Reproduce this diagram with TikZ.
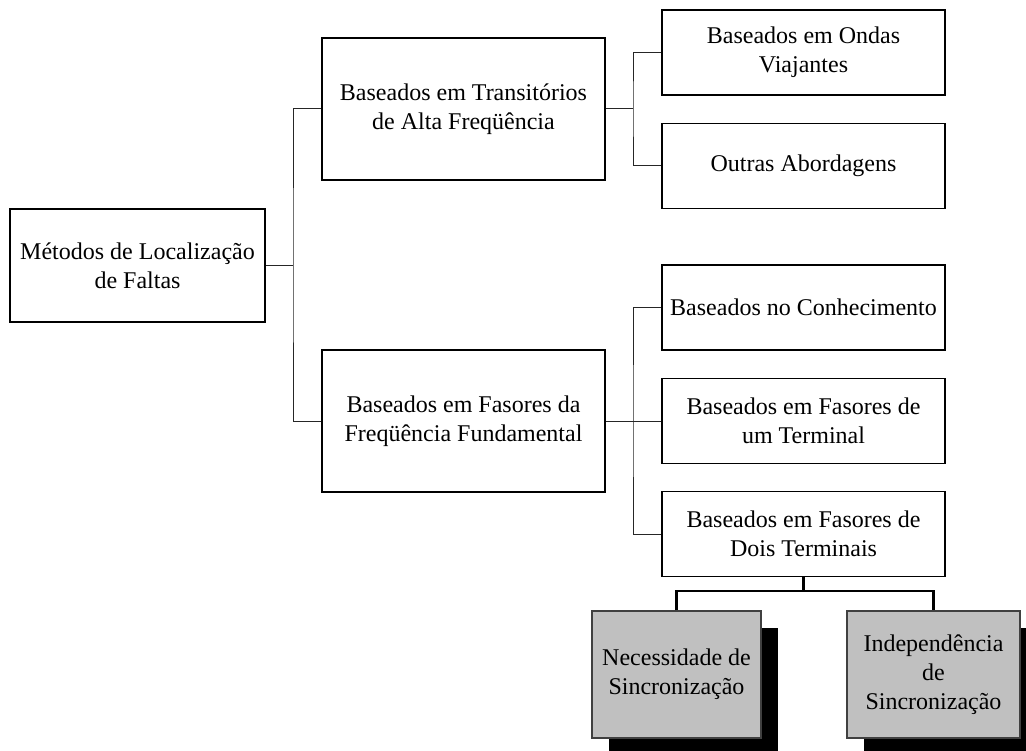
\documentclass[tikz,border=0pt]{standalone}
\usepackage{fontspec}
\setmainfont{Liberation Serif}
\begin{document}
\begin{tikzpicture}[x=1pt,y=-1pt,
  box/.style={draw=black,line width=1.3pt,fill=white,align=center,inner sep=0pt,
    font=\fontsize{24}{29}\selectfont},
  graybox/.style={draw=black!75,line width=1.3pt,fill={rgb,255:red,192;green,192;blue,192},align=center,inner sep=0pt,
    font=\fontsize{24}{29}\selectfont},
  conn/.style={draw=black!85,line width=1pt},
  thickconn/.style={draw=black,line width=2.8pt},
  shade/.style={fill=black}]
\useasboundingbox (0,0) rectangle (1026,751);
\fill[white] (0,0) rectangle (1026,751);
% nodes
\node[box,minimum width=255pt,minimum height=113pt] (root) at (137.5,265.5) {Métodos de Localização\\de Faltas};
\node[box,minimum width=283pt,minimum height=142pt] (mid1) at (463.5,109) {Baseados em Transitórios\\de Alta Freqüência};
\node[box,minimum width=283pt,minimum height=142pt] (mid2) at (463.5,421) {Baseados em Fasores da\\Freqüência Fundamental};
\node[box,minimum width=283pt,minimum height=85pt] (r1) at (803.5,52.5) {Baseados em Ondas\\Viajantes};
\node[box,minimum width=283pt,minimum height=85pt] (r2) at (803.5,166) {Outras Abordagens};
\node[box,minimum width=283pt,minimum height=85pt] (r3) at (803.5,307.5) {Baseados no Conhecimento};
\node[box,minimum width=283pt,minimum height=85pt] (r4) at (803.5,421) {Baseados em Fasores de\\um Terminal};
\node[box,minimum width=283pt,minimum height=85pt] (r5) at (803.5,534) {Baseados em Fasores de\\Dois Terminais};
% shadows
\begin{scope}
\clip (0,0) rectangle (1026,751);
\fill[shade] (609,628) rectangle (778,755);
\fill[shade] (864,628) rectangle (1037,756);
\end{scope}
\node[graybox,minimum width=169pt,minimum height=127pt] (g1) at (676.5,674.5) {Necessidade de\\Sincronização};
\node[graybox,minimum width=173pt,minimum height=127pt] (g2) at (933.5,674.5) {Independência\\de\\Sincronização};
% junctions
\coordinate (j1) at (293,265.5);
\coordinate (j2) at (633,109);
\coordinate (j3) at (633,421);
\coordinate (j4) at (803.5,591);
% connectors
\draw[conn] (root.east) -- (j1);
\draw[conn] (mid1.west) -| (j1) |- (mid2.west);
\draw[conn] (mid1.east) -- (j2);
\draw[conn] (r1.west) -| (j2) |- (r2.west);
\draw[conn] (mid2.east) -- (j3);
\draw[conn] (r3.west) -| (j3) |- (r5.west);
\draw[conn] (j3) -- (r4.west);
\draw[thickconn] (r5.south) -- (j4);
\draw[thickconn] (g1.north) |- (j4) -| (g2.north);
\end{tikzpicture}
\end{document}
